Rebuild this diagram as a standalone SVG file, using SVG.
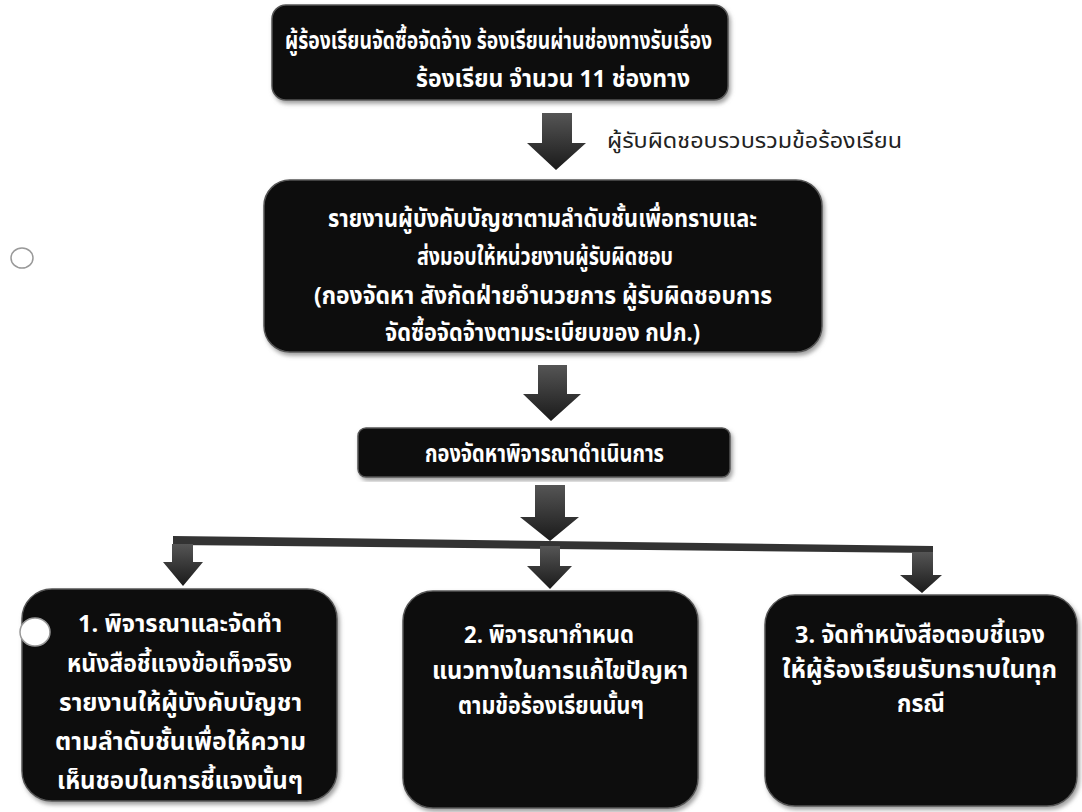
<svg xmlns="http://www.w3.org/2000/svg" width="1082" height="812" viewBox="0 0 1082 812">
<style>
.box{fill:#0a0a0a;stroke:#555;stroke-width:1.5}
.t{font-family:"Noto Sans Thai","Tahoma","Noto Sans","DejaVu Sans",sans-serif;font-weight:bold;fill:#fff;font-size:24px}
.lbl{font-family:"Noto Sans Thai","Tahoma","Noto Sans","DejaVu Sans",sans-serif;fill:#222;font-size:22px}
.arr{fill:url(#ag)}
.hole{fill:#fff;stroke:#999;stroke-width:1.5}
</style>
<defs>
<linearGradient id="ag" x1="0" y1="0" x2="0" y2="1">
<stop offset="0" stop-color="#555"/>
<stop offset="1" stop-color="#1a1a1a"/>
</linearGradient>
<filter id="sh" x="-5%" y="-5%" width="110%" height="115%">
<feDropShadow dx="2" dy="3" stdDeviation="2" flood-color="#888" flood-opacity="0.8"/>
</filter>
</defs>
<rect width="1082" height="812" fill="#fff"/>
<g id="connectors">
<path class="arr" d="M542,113 H572 V143 H586 L556,170 L527,143 H542 Z"/>
<path class="arr" d="M538,365 H567 V394 H581 L551,421 L523,394 H538 Z"/>
<path class="arr" d="M535,485 H565 V517 H579 L550,541 L520,517 H535 Z"/>
<path fill="#333" d="M173,536 L933,546 L933,553 L173,545 Z"/>
<path class="arr" d="M172,544 H193 V562 H203 L183,586 L163,562 H172 Z"/>
<path class="arr" d="M540,546 H560 V566 H572 L550,589 L527,566 H540 Z"/>
<path class="arr" d="M912,552 H933 V575 H942 L922,593 L900,575 H912 Z"/>
<text class="lbl" x="607" y="148" textLength="295" lengthAdjust="spacingAndGlyphs">ผู้รับผิดชอบรวบรวมข้อร้องเรียน</text>
</g>
<g id="node-top">
<rect class="box" filter="url(#sh)" x="272" y="5" width="456" height="95" rx="14"/>
<text class="t" x="285" y="49" textLength="427" lengthAdjust="spacingAndGlyphs">ผู้ร้องเรียนจัดซื้อจัดจ้าง ร้องเรียนผ่านช่องทางรับเรื่อง</text>
<text class="t" x="416" y="87" textLength="274" lengthAdjust="spacingAndGlyphs">ร้องเรียน จำนวน 11 ช่องทาง</text>
</g>
<g id="node-report">
<rect class="box" filter="url(#sh)" x="264" y="180" width="558" height="172" rx="26"/>
<text class="t" x="328" y="227" textLength="429" lengthAdjust="spacingAndGlyphs">รายงานผู้บังคับบัญชาตามลำดับชั้นเพื่อทราบและ</text>
<text class="t" x="417" y="265" textLength="256" lengthAdjust="spacingAndGlyphs">ส่งมอบให้หน่วยงานผู้รับผิดชอบ</text>
<text class="t" x="314" y="304" textLength="458" lengthAdjust="spacingAndGlyphs">(กองจัดหา  สังกัดฝ่ายอำนวยการ  ผู้รับผิดชอบการ</text>
<text class="t" x="385" y="341" textLength="315" lengthAdjust="spacingAndGlyphs">จัดซื้อจัดจ้างตามระเบียบของ กปภ.)</text>
</g>
<g id="node-division">
<rect class="box" filter="url(#sh)" x="358" y="428" width="372" height="49" rx="8"/>
<text class="t" x="425" y="462" textLength="239" lengthAdjust="spacingAndGlyphs">กองจัดหาพิจารณาดำเนินการ</text>
</g>
<g id="node-1">
<rect class="box" filter="url(#sh)" x="22" y="589" width="315" height="212" rx="30"/>
<text class="t" x="78" y="632" textLength="204" lengthAdjust="spacingAndGlyphs">1. พิจารณาและจัดทำ</text>
<text class="t" x="67" y="672" textLength="225" lengthAdjust="spacingAndGlyphs">หนังสือชี้แจงข้อเท็จจริง</text>
<text class="t" x="59" y="711" textLength="243" lengthAdjust="spacingAndGlyphs">รายงานให้ผู้บังคับบัญชา</text>
<text class="t" x="55" y="750" textLength="251" lengthAdjust="spacingAndGlyphs">ตามลำดับชั้นเพื่อให้ความ</text>
<text class="t" x="57" y="789" textLength="246" lengthAdjust="spacingAndGlyphs">เห็นชอบในการชี้แจงนั้นๆ</text>
</g>
<g id="node-2">
<rect class="box" filter="url(#sh)" x="403" y="591" width="295" height="217" rx="30"/>
<text class="t" x="464" y="643" textLength="170" lengthAdjust="spacingAndGlyphs">2. พิจารณากำหนด</text>
<text class="t" x="432" y="679" textLength="256" lengthAdjust="spacingAndGlyphs">แนวทางในการแก้ไขปัญหา</text>
<text class="t" x="458" y="714" textLength="186" lengthAdjust="spacingAndGlyphs">ตามข้อร้องเรียนนั้นๆ</text>
</g>
<g id="node-3">
<rect class="box" filter="url(#sh)" x="765" y="595" width="312" height="211" rx="30"/>
<text class="t" x="795" y="643" textLength="250" lengthAdjust="spacingAndGlyphs">3. จัดทำหนังสือตอบชี้แจง</text>
<text class="t" x="782" y="678" textLength="275" lengthAdjust="spacingAndGlyphs">ให้ผู้ร้องเรียนรับทราบในทุก</text>
<text class="t" x="897" y="712" textLength="48" lengthAdjust="spacingAndGlyphs">กรณี</text>
</g>
<g id="holes">
<ellipse class="hole" cx="22" cy="258" rx="11" ry="10"/>
<ellipse class="hole" cx="35" cy="632" rx="15" ry="14"/>
</g>
</svg>
